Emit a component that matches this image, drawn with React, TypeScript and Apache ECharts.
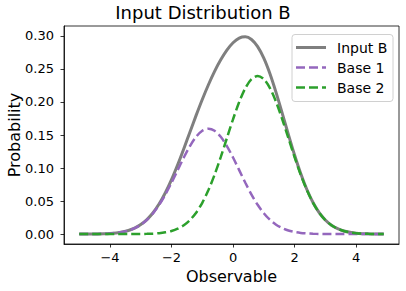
import React, { useEffect, useRef } from "react";
import * as echarts from "echarts";

const xValues = [
  -5.0, -4.8, -4.6, -4.4, -4.2, -4.0, -3.8, -3.6, -3.4, -3.2,
  -3.0, -2.8, -2.6, -2.4, -2.2, -2.0, -1.8, -1.6, -1.4, -1.2,
  -1.0, -0.8, -0.6, -0.4, -0.2, 0.0, 0.2, 0.4, 0.6, 0.8,
  1.0, 1.2, 1.4, 1.6, 1.8, 2.0, 2.2, 2.4, 2.6, 2.8,
  3.0, 3.2, 3.4, 3.6, 3.8, 4.0, 4.2, 4.4, 4.6, 4.8, 4.9,
];

const inputB = [
  0.0, 0.0001, 0.0001, 0.0002, 0.0005, 0.001, 0.0018, 0.0032, 0.0055, 0.009,
  0.0144, 0.022, 0.0323, 0.0458, 0.0626, 0.0824, 0.1049, 0.1293, 0.1546, 0.1797,
  0.2038, 0.2261, 0.2463, 0.2638, 0.2785, 0.2897, 0.2967, 0.2986, 0.2945, 0.2837,
  0.2662, 0.2426, 0.2141, 0.1828, 0.1506, 0.1197, 0.0916, 0.0675, 0.0479, 0.0326,
  0.0214, 0.0135, 0.0082, 0.0047, 0.0027, 0.0014, 0.0007, 0.0004, 0.0002, 0.0001, 0.0001,
];

const base1 = [
  0.0, 0.0001, 0.0001, 0.0002, 0.0005, 0.001, 0.0018, 0.0032, 0.0054, 0.009,
  0.0142, 0.0216, 0.0316, 0.0444, 0.0599, 0.0777, 0.0968, 0.1159, 0.1333, 0.1473,
  0.1564, 0.1596, 0.1564, 0.1473, 0.1333, 0.1159, 0.0968, 0.0777, 0.0599, 0.0444,
  0.0316, 0.0216, 0.0142, 0.009, 0.0054, 0.0032, 0.0018, 0.001, 0.0005, 0.0002,
  0.0001, 0.0001, 0.0, 0.0, 0.0, 0.0, 0.0, 0.0, 0.0, 0.0, 0.0,
];

const base2 = [
  0.0, 0.0, 0.0, 0.0, 0.0, 0.0, 0.0, 0.0, 0.0, 0.0001,
  0.0002, 0.0004, 0.0007, 0.0014, 0.0027, 0.0047, 0.0081, 0.0134, 0.0213, 0.0324,
  0.0474, 0.0666, 0.0898, 0.1165, 0.1452, 0.1738, 0.1999, 0.221, 0.2346, 0.2394,
  0.2346, 0.221, 0.1999, 0.1738, 0.1452, 0.1165, 0.0898, 0.0666, 0.0474, 0.0324,
  0.0213, 0.0134, 0.0081, 0.0047, 0.0027, 0.0014, 0.0007, 0.0004, 0.0002, 0.0001, 0.0001,
];

const xTicks = [-4, -2, 0, 2, 4];
const yTicks = [0, 0.05, 0.1, 0.15, 0.2, 0.25, 0.3];
const seriesNames = ["Input B", "Base 1", "Base 2"];
const seriesColors = ["#7f7f7f", "#9467bd", "#2ca02c"];

const FONT = "DejaVu Sans";

export default function App() {
  const ref = useRef<HTMLDivElement>(null);
  useEffect(() => {
    if (!ref.current) return;
    const chart = echarts.init(ref.current, undefined, { renderer: "svg" });
    const pairs = (ys: number[]) => xValues.map((x, i) => [x, ys[i]]);

    const legendX = 292;
    const legendY = 34.5;
    const rowY = [47.5, 67.5, 87.5];
    const legendElems: any[] = [
      {
        type: "rect",
        shape: { x: legendX, y: legendY, width: 101, height: 67, r: 3 },
        style: { fill: "rgba(255,255,255,0.8)", stroke: "#d0d0d0", lineWidth: 1 },
        z: 100,
      },
    ];
    seriesNames.forEach((name, i) => {
      legendElems.push({
        type: "line",
        shape: { x1: legendX + 4, y1: rowY[i], x2: legendX + 34, y2: rowY[i] },
        style: {
          stroke: seriesColors[i],
          lineWidth: i === 0 ? 3 : 2.5,
          lineDash: i === 0 ? null : [9, 4],
        },
        z: 101,
      });
      legendElems.push({
        type: "text",
        x: legendX + 45,
        y: rowY[i],
        style: {
          text: name,
          fontFamily: FONT,
          fontSize: 14,
          fill: "#000",
          textVerticalAlign: "middle",
          verticalAlign: "middle",
        },
        z: 101,
      });
    });

    chart.setOption({
      animation: false,
      title: {
        text: "Input Distribution B",
        left: "center",
        top: 3,
        padding: 0,
        textStyle: { fontFamily: FONT, fontSize: 18, fontWeight: "normal", color: "#000" },
      },
      grid: {
        left: 64,
        right: 7,
        top: 26,
        bottom: 47,
        containLabel: false,
        outerBoundsMode: "none",
        show: true,
        borderColor: "#000",
        borderWidth: 0.8,
        backgroundColor: "transparent",
      },
      graphic: legendElems,
      xAxis: {
        type: "value",
        min: -5.495,
        max: 5.395,
        name: "Observable",
        nameLocation: "middle",
        nameGap: 24,
        nameMoveOverlap: false,
        nameTextStyle: { fontFamily: FONT, fontSize: 16, color: "#000" },
        axisLine: { show: true, onZero: false, lineStyle: { color: "#000", width: 0.8 } },
        axisTick: { show: true, inside: false, length: 3.5, customValues: xTicks, lineStyle: { color: "#000", width: 0.8 } },
        axisLabel: {
          customValues: xTicks,
          margin: 7,
          fontFamily: FONT,
          fontSize: 13,
          color: "#000",
          formatter: (v: number) => (v < 0 ? "\u2212" + Math.abs(v) : String(v)),
        },
        splitLine: { show: false },
      },
      yAxis: {
        type: "value",
        min: -0.015,
        max: 0.315,
        name: "Probability",
        nameLocation: "middle",
        nameGap: 42,
        nameMoveOverlap: false,
        nameTextStyle: { fontFamily: FONT, fontSize: 16, color: "#000" },
        axisLine: { show: true, onZero: false, lineStyle: { color: "#000", width: 0.8 } },
        axisTick: { show: true, inside: false, length: 3.5, customValues: yTicks, lineStyle: { color: "#000", width: 0.8 } },
        axisLabel: {
          customValues: yTicks,
          margin: 10,
          fontFamily: FONT,
          fontSize: 13,
          color: "#000",
          formatter: (v: number) => v.toFixed(2),
        },
        splitLine: { show: false },
      },
      series: [
        {
          name: seriesNames[0],
          type: "line",
          data: pairs(inputB),
          smooth: 0.3,
          showSymbol: false,
          symbol: "none",
          color: seriesColors[0],
          lineStyle: { color: seriesColors[0], width: 3, type: "solid" },
          z: 2,
        },
        {
          name: seriesNames[1],
          type: "line",
          data: pairs(base1),
          smooth: 0.3,
          showSymbol: false,
          symbol: "none",
          color: seriesColors[1],
          lineStyle: { color: seriesColors[1], width: 2.5, type: [9, 4] },
          z: 3,
        },
        {
          name: seriesNames[2],
          type: "line",
          data: pairs(base2),
          smooth: 0.3,
          showSymbol: false,
          symbol: "none",
          color: seriesColors[2],
          lineStyle: { color: seriesColors[2], width: 2.5, type: [9, 4] },
          z: 4,
        },
      ],
    });
    return () => chart.dispose();
  }, []);
  return (
    <div
      ref={ref}
      style={{ position: "fixed", left: 0, top: 0, width: 406, height: 291, background: "#fff" }}
    />
  );
}
